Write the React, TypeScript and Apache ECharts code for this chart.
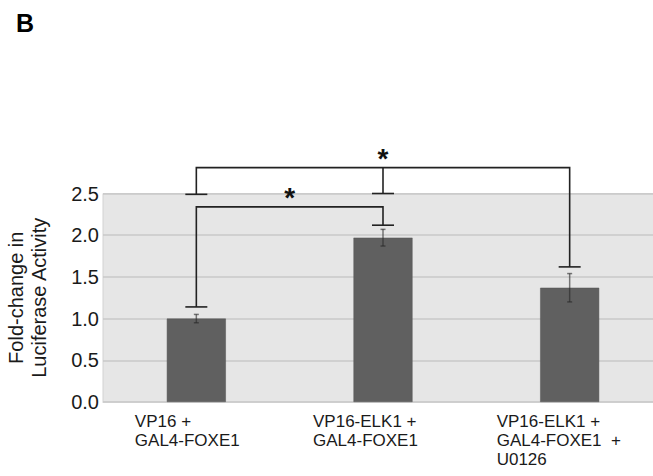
import React, { useEffect, useRef } from "react";
import * as echarts from "echarts";

const categories = [
  "VP16 +\nGAL4-FOXE1",
  "VP16-ELK1 +\nGAL4-FOXE1",
  "VP16-ELK1 +\nGAL4-FOXE1  +\nU0126",
];
const foldChange = [1.0, 1.97, 1.37];
const errorSD = [0.05, 0.1, 0.17];

// significance brackets
const bracketFrom = [0, 0];
const bracketTo = [1, 2];
const bracketHeight = [2.34, 2.81];
const bracketFromEnd = [1.14, 2.49];
const bracketToEnd = [2.12, 1.62];
const bracketMid = [-1, 1];
const bracketMidEnd = [0, 2.5];
const bracketLabel = ["*", "*"];

const labelWidths = [123, 140, 146];
const FONT = '"Liberation Sans", Arial, sans-serif';

export default function App() {
  const ref = useRef<HTMLDivElement>(null);
  useEffect(() => {
    if (!ref.current) return;
    const chart = echarts.init(ref.current, undefined, { renderer: "svg" });
    const rich: any = {};
    labelWidths.forEach((w, i) => {
      rich["c" + i] = {
        width: w,
        align: "left",
        fontSize: 17,
        lineHeight: 19,
        fontFamily: FONT,
        color: "#1a1a1a",
      };
    });
    const bracketData = bracketFrom.map((f, i) => [
      f,
      bracketTo[i],
      bracketHeight[i],
      bracketFromEnd[i],
      bracketToEnd[i],
      bracketMid[i],
      bracketMidEnd[i],
      i,
    ]);
    const errData = foldChange.map((v, i) => [i, v - errorSD[i], v + errorSD[i]]);
    const lineStyle = { stroke: "#222", lineWidth: 1.6 };
    const cap = (x: number, y: number) => ({
      type: "line",
      shape: { x1: x - 11, y1: y, x2: x + 11, y2: y },
      style: lineStyle,
    });
    const option: any = {
      animation: false,
      title: {
        text: "B",
        left: 16,
        top: 10,
        padding: 0,
        textStyle: { fontSize: 25, fontWeight: "bold", fontFamily: FONT, color: "#000" },
      },
      grid: {
        left: 103,
        top: 193.5,
        width: 560,
        bottom: 74,
        outerBoundsMode: "none",
        containLabel: false,
        show: true,
        backgroundColor: "#e6e6e6",
        borderColor: "#d2d2d2",
        borderWidth: 1,
      },
      xAxis: {
        type: "category",
        data: categories,
        axisTick: { show: false },
        axisLine: { show: true, lineStyle: { color: "#cfcfcf", width: 1 } },
        axisLabel: {
          interval: 0,
          margin: 10,
          formatter: (v: string, i: number) => `{c${i}|${v}}`,
          rich,
        },
      },
      yAxis: {
        type: "value",
        min: 0,
        max: 2.5,
        interval: 0.5,
        name: "Fold-change in\nLuciferase Activity",
        nameLocation: "middle",
        nameGap: 53,
        nameTextStyle: { fontSize: 20, lineHeight: 23, fontFamily: FONT, color: "#1a1a1a" },
        axisLine: { show: false },
        axisTick: { show: false },
        axisLabel: {
          fontSize: 20,
          fontFamily: FONT,
          color: "#1a1a1a",
          margin: 4,
          formatter: (v: number) => v.toFixed(1),
        },
        splitLine: { lineStyle: { color: "#c8c8c8", width: 1.5 } },
      },
      series: [
        {
          type: "bar",
          data: foldChange,
          barWidth: 59,
          itemStyle: { color: "#606060", borderColor: "#555", borderWidth: 0.5 },
        },
        {
          type: "custom",
          data: errData,
          encode: { x: 0, y: 2 },
          z: 5,
          renderItem: (params: any, api: any) => {
            const i = api.value(0);
            const lo = api.coord([i, api.value(1)]);
            const hi = api.coord([i, api.value(2)]);
            const st = { stroke: "rgba(40,40,40,0.6)", lineWidth: 1.5 };
            return {
              type: "group",
              children: [
                { type: "line", shape: { x1: hi[0], y1: hi[1], x2: lo[0], y2: lo[1] }, style: st },
                { type: "line", shape: { x1: hi[0] - 2.5, y1: hi[1], x2: hi[0] + 2.5, y2: hi[1] }, style: st },
                { type: "line", shape: { x1: lo[0] - 2.5, y1: lo[1], x2: lo[0] + 2.5, y2: lo[1] }, style: st },
              ],
            };
          },
        },
        {
          type: "custom",
          data: bracketData,
          encode: { x: 0, y: 2 },
          clip: false,
          z: 10,
          renderItem: (params: any, api: any) => {
            const f = api.value(0);
            const t = api.value(1);
            const h = api.value(2);
            const pF = api.coord([f, h]);
            const pT = api.coord([t, h]);
            const pFE = api.coord([f, api.value(3)]);
            const pTE = api.coord([t, api.value(4)]);
            const m = api.value(5);
            const children: any[] = [
              {
                type: "polyline",
                shape: { points: [pFE, pF, pT, pTE] },
                style: { ...lineStyle, fill: null },
              },
              cap(pFE[0], pFE[1]),
              cap(pTE[0], pTE[1]),
            ];
            if (m >= 0) {
              const pM = api.coord([m, h]);
              const pME = api.coord([m, api.value(6)]);
              children.push({
                type: "line",
                shape: { x1: pM[0], y1: pM[1], x2: pME[0], y2: pME[1] },
                style: lineStyle,
              });
              children.push(cap(pME[0], pME[1]));
            }
            children.push({
              type: "text",
              style: {
                text: bracketLabel[api.value(7)],
                x: (pF[0] + pT[0]) / 2,
                y: pF[1] - 9,
                align: "center",
                verticalAlign: "middle",
                fontSize: 28,
                fontWeight: "bold",
                fontFamily: FONT,
                fill: "#111",
              },
            });
            return { type: "group", children };
          },
        },
      ],
    };
    chart.setOption(option);
    return () => chart.dispose();
  }, []);
  return (
    <div
      ref={ref}
      style={{ position: "absolute", left: 0, top: 0, width: 653, height: 476 }}
    />
  );
}
